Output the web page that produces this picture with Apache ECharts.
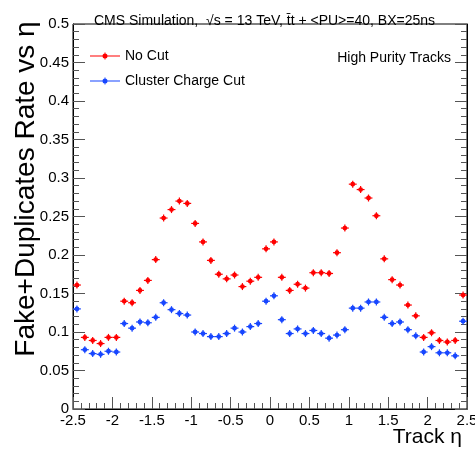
<!DOCTYPE html>
<html>
<head>
<meta charset="utf-8">
<style>html,body{margin:0;padding:0;background:#fff;}#chart{width:475px;height:455px;}</style>
<script src="https://cdn.jsdelivr.net/npm/echarts@6/dist/echarts.min.js"></script>
</head>
<body>
<div id="chart"></div>
<script>
// bin centers (Track eta), bin width 0.1
const etaBins = [-2.45,-2.35,-2.25,-2.15,-2.05,-1.95,-1.85,-1.75,-1.65,-1.55,
  -1.45,-1.35,-1.25,-1.15,-1.05,-0.95,-0.85,-0.75,-0.65,-0.55,
  -0.45,-0.35,-0.25,-0.15,-0.05,0.05,0.15,0.25,0.35,0.45,
  0.55,0.65,0.75,0.85,0.95,1.05,1.15,1.25,1.35,1.45,
  1.55,1.65,1.75,1.85,1.95,2.05,2.15,2.25,2.35,2.45];
const binWidth = 0.1;
const noCut = [0.161,0.093,0.089,0.085,0.093,0.093,0.140,0.138,0.154,0.167,
  0.194,0.248,0.259,0.270,0.267,0.241,0.217,0.193,0.175,0.169,
  0.174,0.159,0.166,0.171,0.208,0.217,0.171,0.154,0.162,0.157,
  0.177,0.177,0.176,0.203,0.235,0.292,0.285,0.274,0.251,0.195,
  0.168,0.161,0.135,0.121,0.093,0.099,0.089,0.087,0.089,0.148];
const clusterCut = [0.130,0.077,0.072,0.071,0.075,0.074,0.111,0.105,0.113,0.112,
  0.119,0.138,0.129,0.124,0.122,0.100,0.098,0.094,0.094,0.098,
  0.105,0.100,0.107,0.111,0.140,0.147,0.116,0.098,0.104,0.098,
  0.102,0.098,0.092,0.096,0.103,0.131,0.131,0.139,0.139,0.119,
  0.111,0.113,0.103,0.095,0.074,0.081,0.073,0.073,0.069,0.114];
const xTicks = {min:-2.5, max:2.5, interval:0.5};
const yTicks = {min:0, max:0.5, interval:0.05};

const FONT = 'Liberation Sans, Arial, Helvetica, sans-serif';
const RED = '#ff0000';
const BLUE = '#1746ff';
const TICK = '#555';

function makeSeries(name, values, color) {
  return {
    name: name,
    type: 'custom',
    itemStyle: {color: color},
    data: etaBins.map((x, i) => [x, values[i]]),
    renderItem: function (params, api) {
      const x = api.value(0), y = api.value(1);
      const p = api.coord([x, y]);
      const l = api.coord([x - binWidth / 2, y]);
      const r = api.coord([x + binWidth / 2, y]);
      return {
        type: 'group',
        children: [
          {type: 'line', shape: {x1: l[0], y1: p[1], x2: r[0], y2: p[1]}, style: {stroke: color, lineWidth: 1.2}},
          {type: 'line', shape: {x1: p[0], y1: p[1] - 3.5, x2: p[0], y2: p[1] + 3.5}, style: {stroke: color, lineWidth: 1.2}},
          {type: 'circle', shape: {cx: p[0], cy: p[1], r: 2.4}, style: {fill: color}}
        ]
      };
    }
  };
}

const iconPath = 'path://M0,3 L30,3 L30,4 L0,4 Z M14.5,0 L15.5,0 L15.5,7 L14.5,7 Z M12.5,3.5 A2.5,2.5 0 1 1 17.5,3.5 A2.5,2.5 0 1 1 12.5,3.5 Z';

const chart = echarts.init(document.getElementById('chart'));
chart.setOption({
  animation: false,
  title: {
    text: 'CMS Simulation,  \u221As = 13 TeV, t\u0304t + <PU>=40, BX=25ns',
    left: 89, top: 9,
    textStyle: {fontFamily: FONT, fontSize: 14, fontWeight: 'normal', color: '#000'}
  },
  legend: {
    orient: 'vertical',
    left: 85, top: 44,
    itemWidth: 30, itemHeight: 7, itemGap: 11,
    icon: iconPath,
    textStyle: {fontFamily: FONT, fontSize: 14, color: '#000'},
    data: ['No Cut', 'Cluster Charge Cut']
  },
  grid: {left: 73, right: 8, top: 24, bottom: 46, show: true, borderColor: '#000', outerBoundsMode: 'none'},
  xAxis: {type: 'value', min: xTicks.min, max: xTicks.max, interval: xTicks.interval,
    axisLine: {show: true, onZero: false, lineStyle: {color: '#000'}},
    axisTick: {show: true, inside: true, length: 12, lineStyle: {color: TICK, width: 1}},
    minorTick: {show: true, splitNumber: 5, length: 6, lineStyle: {color: TICK, width: 1}},
    axisLabel: {fontFamily: FONT, fontSize: 15, color: '#000', margin: 4},
    splitLine: {show: false}},
  yAxis: [{type: 'value', min: yTicks.min, max: yTicks.max, interval: yTicks.interval,
    axisLine: {show: true, onZero: false, lineStyle: {color: '#000'}},
    axisTick: {show: true, inside: true, length: 12, lineStyle: {color: TICK, width: 1}},
    minorTick: {show: true, splitNumber: 5, length: 6, lineStyle: {color: TICK, width: 1}},
    axisLabel: {fontFamily: FONT, fontSize: 15, color: '#000', margin: 4},
    splitLine: {show: false}},
    {type: 'value', min: yTicks.min, max: yTicks.max, interval: yTicks.interval, position: 'right',
    axisLine: {show: true, onZero: false, lineStyle: {color: '#000'}},
    axisTick: {show: true, inside: true, length: 12, lineStyle: {color: TICK, width: 1}},
    minorTick: {show: true, splitNumber: 5, length: 6, lineStyle: {color: TICK, width: 1}},
    axisLabel: {show: false},
    splitLine: {show: false}}],
  graphic: [
    {type: 'text', x: 26, y: 189, rotation: Math.PI / 2,
     style: {text: 'Fake+Duplicates Rate vs \u03B7', fontFamily: FONT, fontSize: 28, fill: '#000', align: 'center', verticalAlign: 'middle'}},
    {type: 'text', x: 462, y: 437,
     style: {text: 'Track \u03B7', fontFamily: FONT, fontSize: 21, fill: '#000', align: 'right', verticalAlign: 'middle'}},
    {type: 'text', x: 451, y: 58,
     style: {text: 'High Purity Tracks', fontFamily: FONT, fontSize: 14, fill: '#000', align: 'right', verticalAlign: 'middle'}}
  ],
  series: [
    makeSeries('No Cut', noCut, RED),
    makeSeries('Cluster Charge Cut', clusterCut, BLUE)
  ]
});
</script>
</body>
</html>
